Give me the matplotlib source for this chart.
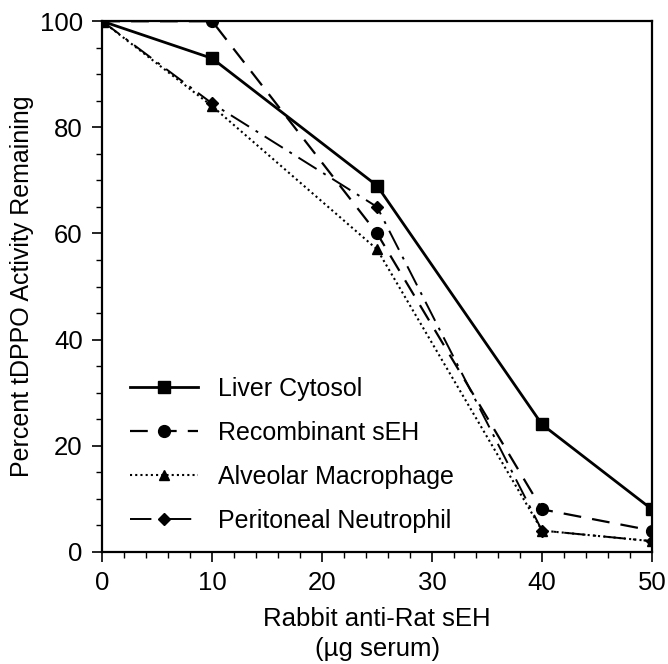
import matplotlib
matplotlib.use("Agg")
import matplotlib.pyplot as plt
from matplotlib.ticker import MultipleLocator

# antibody dose (ug serum)
dose = [0, 10, 25, 40, 50]

liver_cytosol = [100, 93, 69, 24, 8]
recombinant_seh = [100, 100, 60, 8, 4]
alveolar_macrophage = [100, 84, 57, 4, 2]
peritoneal_neutrophil = [100, 84.5, 65, 4, 2]

labels = ["Liver Cytosol", "Recombinant sEH", "Alveolar Macrophage", "Peritoneal Neutrophil"]

plt.rcParams["font.family"] = ["Liberation Sans", "DejaVu Sans"]

fig = plt.figure(figsize=(6.68, 6.64), dpi=100)
ax = fig.add_axes([0.153, 0.169, 0.823, 0.799])

ax.plot(dose, liver_cytosol, color="black", lw=2.0, ls="-",
        marker="s", ms=8.5, label=labels[0])
ax.plot(dose, recombinant_seh, color="black", lw=1.6, ls=(0, (8, 5)),
        marker="o", ms=8.5, label=labels[1])
ax.plot(dose, alveolar_macrophage, color="black", lw=1.5, ls=(0, (1, 1.5)),
        marker="^", ms=7, label=labels[2])
ax.plot(dose, peritoneal_neutrophil, color="black", lw=1.4, ls=(0, (11, 4, 1.5, 4)),
        marker="D", ms=6, label=labels[3])

ax.set_xlim(0, 50)
ax.set_ylim(0, 100)
ax.xaxis.set_major_locator(MultipleLocator(10))
ax.xaxis.set_minor_locator(MultipleLocator(2))
ax.yaxis.set_major_locator(MultipleLocator(20))
ax.yaxis.set_minor_locator(MultipleLocator(5))
ax.tick_params(which="major", length=7, width=1.2, labelsize=18.5, direction="out")
ax.tick_params(which="minor", length=4, width=1.0, direction="out")
ax.tick_params(axis="x", which="major", pad=6.5)
ax.tick_params(axis="y", which="major", pad=7)
for sp in ax.spines.values():
    sp.set_linewidth(1.6)

ax.set_ylabel("Percent tDPPO Activity Remaining", fontsize=18, labelpad=4)
ax.set_xlabel("Rabbit anti-Rat sEH\n(\u00b5g serum)", fontsize=18.5, labelpad=9,
              linespacing=1.3)

ax.legend(loc="center left", bbox_to_anchor=(0.051, 0.182), frameon=False,
          borderpad=0, borderaxespad=0, fontsize=18, handlelength=2.7,
          handletextpad=0.8, labelspacing=0.8)

fig.savefig("out.png", dpi=100)
